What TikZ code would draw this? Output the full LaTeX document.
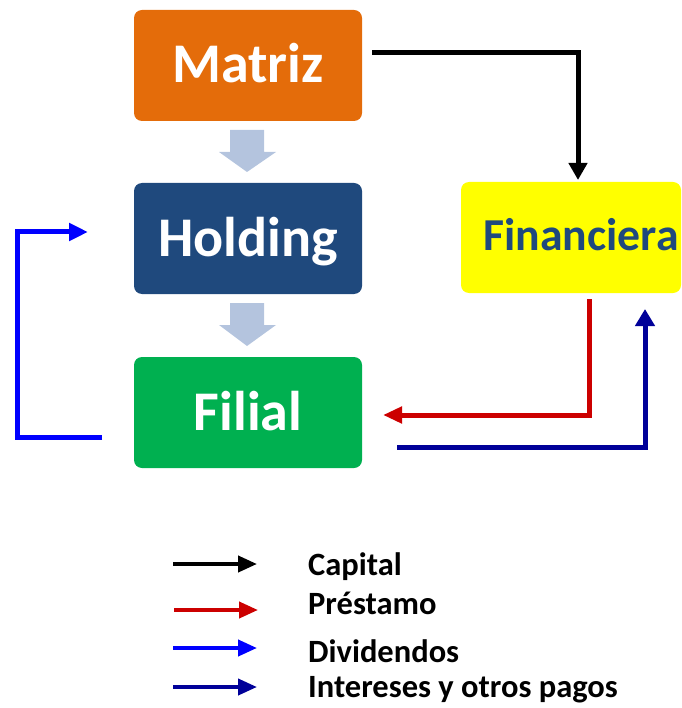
\documentclass[tikz,border=0pt]{standalone}
\usepackage{fontspec}
\setmainfont{Carlito}
\usetikzlibrary{arrows.meta}
\definecolor{matrizc}{HTML}{E46C0A}
\definecolor{holdingc}{HTML}{1F497D}
\definecolor{filialc}{HTML}{00B050}
\definecolor{finc}{HTML}{FFFF00}
\definecolor{fintext}{HTML}{1F497D}
\definecolor{grayarrow}{HTML}{B4C4DE}
\definecolor{capc}{HTML}{000000}
\definecolor{presc}{HTML}{CC0000}
\definecolor{divc}{HTML}{0000FF}
\definecolor{intc}{HTML}{000099}
\begin{document}
\begin{tikzpicture}[x=1pt,y=-1pt,
  box/.style={rounded corners=8pt, minimum width=228pt, minimum height=111pt, inner sep=0pt,
    text=white, font=\fontsize{56}{60}\bfseries\selectfont, text height=35pt, text depth=0pt},
  flow/.style={line width=5pt, -{Triangle[length=18pt,width=18pt]}},
  legarrow/.style={line width=4pt, -{Triangle[length=19pt,width=16pt]}},
  legtext/.style={anchor=base west, font=\fontsize{32.5}{35}\bfseries\selectfont, inner sep=0pt},
  bigarrow/.style={fill=grayarrow}]
\useasboundingbox (0,0) rectangle (681,708);

\node[box, fill=matrizc] (matriz) at (248,65.5) {Matriz};
\node[box, fill=holdingc] (holding) at (248,238.5) {Holding};
\node[box, fill=filialc] (filial) at (248,412.5) {Filial};
\node[box, fill=finc, minimum width=220pt,
  label={[text=fintext, font=\fontsize{45.7}{48}\bfseries\selectfont, inner sep=0pt,
          text height=27pt, text depth=0pt, xshift=10pt]center:Financiera}] (fin) at (571,237.5) {};

% gray block arrows
\fill[bigarrow] (230,130) -- (264,130) -- (264,152) -- (276,152) -- (247,172) -- (219,152) -- (230,152) -- cycle;
\fill[bigarrow] (230,303) -- (264,303) -- (264,325) -- (276,325) -- (247,346) -- (219,325) -- (230,325) -- cycle;

% connectors
\coordinate (capS) at (372,53);
\coordinate (capE) at (578,180);
\draw[flow, capc, -{Triangle[length=17pt,width=18pt]}] (capS) -| (capE);

\coordinate (presS) at (589,299);
\coordinate (presE) at (383,415);
\draw[flow, presc, -{Triangle[length=19pt,width=16pt]}] (presS) |- (presE);

\coordinate (intS) at (397,447);
\coordinate (intE) at (645,309);
\draw[flow, intc, -{Triangle[length=17pt,width=19pt]}] (intS) -| (intE);

\coordinate (divS) at (102,437);
\coordinate (divM) at (17,232);
\coordinate (divE) at (88,232);
\draw[flow, divc, -{Triangle[length=19pt,width=17pt]}] (divS) -| (divM) -- (divE);

% legend
\coordinate (l1a) at (173,564); \coordinate (l1b) at (257,564);
\coordinate (l2a) at (174,610); \coordinate (l2b) at (258,610);
\coordinate (l3a) at (173,648); \coordinate (l3b) at (257,648);
\coordinate (l4a) at (173,687); \coordinate (l4b) at (257,687);
\draw[legarrow, capc] (l1a) -- (l1b);
\draw[legarrow, presc] (l2a) -- (l2b);
\draw[legarrow, divc] (l3a) -- (l3b);
\draw[legarrow, intc] (l4a) -- (l4b);
\node[legtext] (t1) at (308,575) {Capital};
\node[legtext] (t2) at (308,614) {Préstamo};
\node[legtext] (t3) at (308,662) {Dividendos};
\node[legtext] (t4) at (308,697) {Intereses y otros pagos};
\end{tikzpicture}
\end{document}
